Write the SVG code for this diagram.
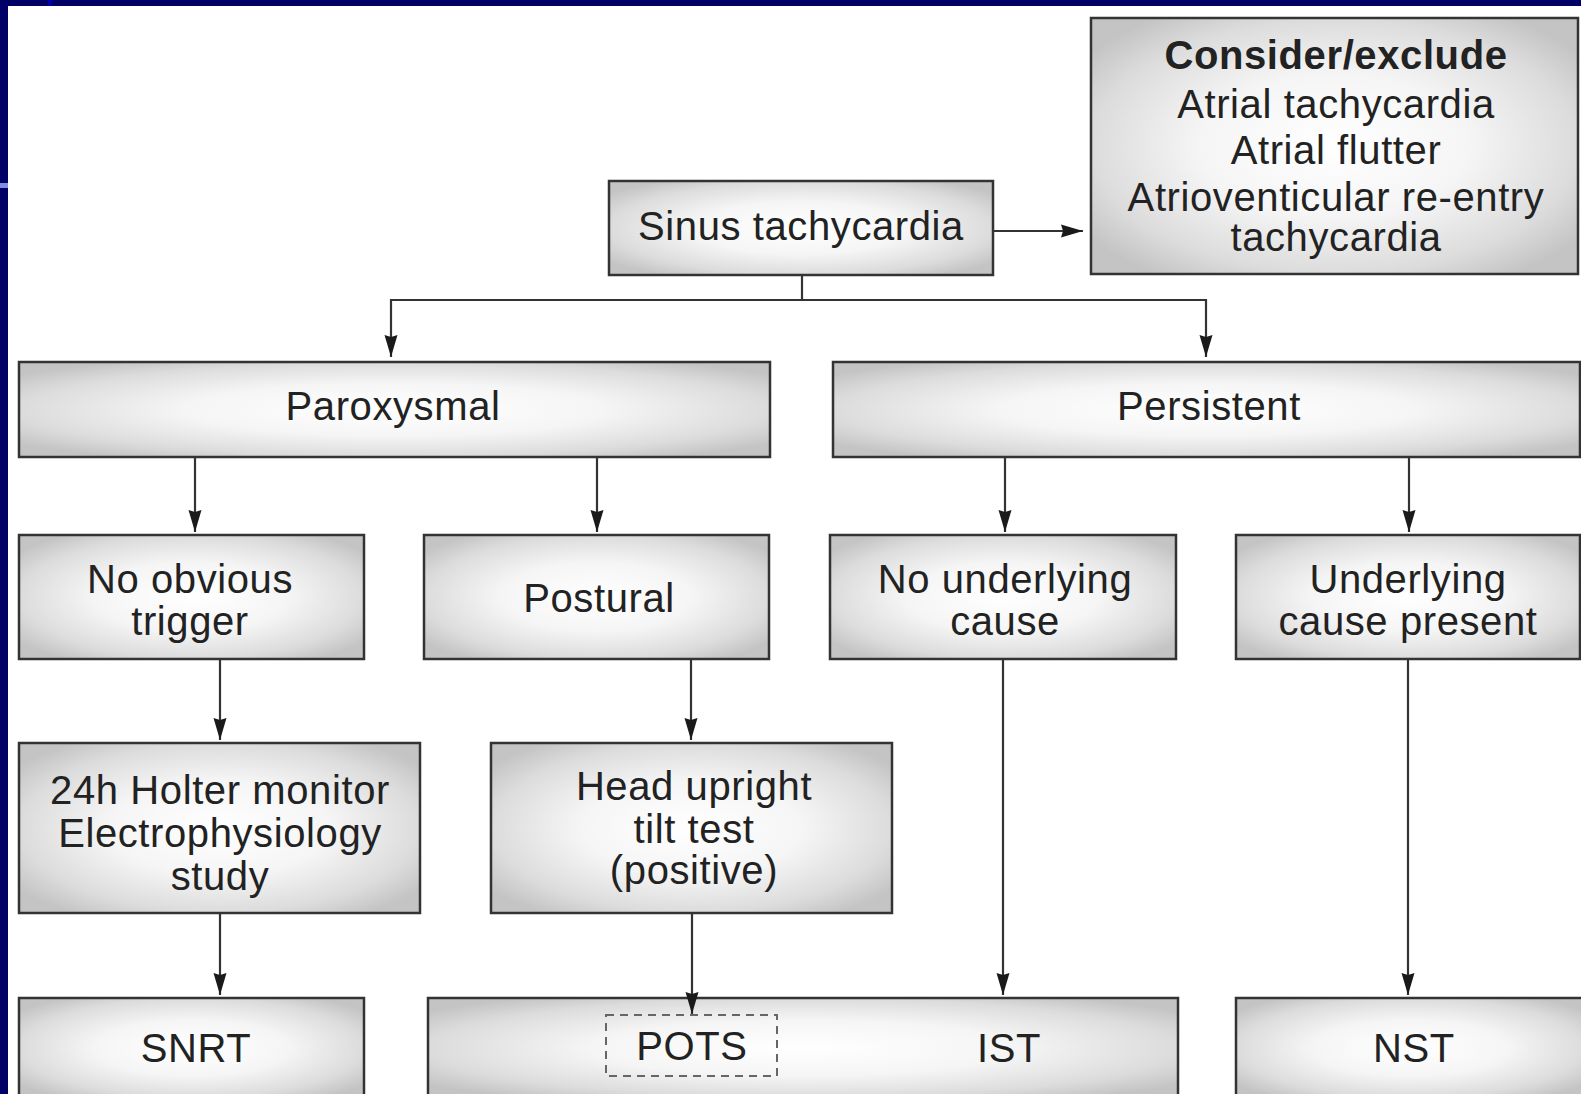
<svg xmlns="http://www.w3.org/2000/svg" width="1581" height="1094" viewBox="0 0 1581 1094">
<defs>
<radialGradient id="g" cx="0.5" cy="0.5" r="0.62">
<stop offset="0" stop-color="#ffffff"/>
<stop offset="0.45" stop-color="#f5f5f5"/>
<stop offset="0.8" stop-color="#dcdcdc"/>
<stop offset="1" stop-color="#c4c4c4"/>
</radialGradient>
<marker id="ah" viewBox="0 0 22 14" refX="22" refY="7" markerWidth="22" markerHeight="14" markerUnits="userSpaceOnUse" orient="auto">
<path d="M0,0.5 L22,7 L0,13.5 L2,7 Z" fill="#1a1a1a"/>
</marker>
</defs>
<style>
.box{fill:url(#g);stroke:#333;stroke-width:2.5}
.t{font-family:"Liberation Sans",Arial,sans-serif;font-size:40px;fill:#222;text-anchor:middle;letter-spacing:0.6px}
.b{font-weight:bold}
.c{fill:none;stroke:#333;stroke-width:2.2}
.dash{fill:none;stroke:#666;stroke-width:2;stroke-dasharray:8,6}
</style>
<rect x="0" y="0" width="1581" height="1094" fill="#ffffff"/>
<rect x="0" y="0" width="1581" height="6" fill="#000066"/>
<rect x="0" y="0" width="8" height="1094" fill="#000066"/>
<rect x="48" y="0" width="4" height="6" fill="#0000aa"/>
<rect x="0" y="183" width="8" height="5" fill="#7f8fe0"/>

<g id="sinus">
<rect class="box" x="609" y="181" width="384" height="94"/>
<text class="t" x="801" y="240">Sinus tachycardia</text>
</g>
<g id="consider">
<rect class="box" x="1091" y="18" width="487" height="256"/>
<text class="t b" x="1336" y="69">Consider/exclude</text>
<text class="t" x="1336" y="118">Atrial tachycardia</text>
<text class="t" x="1336" y="164">Atrial flutter</text>
<text class="t" x="1336" y="211">Atrioventicular re-entry</text>
<text class="t" x="1336" y="251">tachycardia</text>
</g>
<g id="paroxysmal">
<rect class="box" x="19" y="362" width="751" height="95"/>
<text class="t" x="393" y="420">Paroxysmal</text>
</g>
<g id="persistent">
<rect class="box" x="833" y="362" width="747" height="95"/>
<text class="t" x="1209" y="420">Persistent</text>
</g>
<g id="no-trigger">
<rect class="box" x="19" y="535" width="345" height="124"/>
<text class="t" x="190" y="593">No obvious</text>
<text class="t" x="190" y="635">trigger</text>
</g>
<g id="postural">
<rect class="box" x="424" y="535" width="345" height="124"/>
<text class="t" x="599" y="612">Postural</text>
</g>
<g id="no-cause">
<rect class="box" x="830" y="535" width="346" height="124"/>
<text class="t" x="1005" y="593">No underlying</text>
<text class="t" x="1005" y="635">cause</text>
</g>
<g id="cause">
<rect class="box" x="1236" y="535" width="344" height="124"/>
<text class="t" x="1408" y="593">Underlying</text>
<text class="t" x="1408" y="635">cause present</text>
</g>
<g id="holter">
<rect class="box" x="19" y="743" width="401" height="170"/>
<text class="t" x="220" y="804">24h Holter monitor</text>
<text class="t" x="220" y="847">Electrophysiology</text>
<text class="t" x="220" y="890">study</text>
</g>
<g id="tilt">
<rect class="box" x="491" y="743" width="401" height="170"/>
<text class="t" x="694" y="800">Head upright</text>
<text class="t" x="694" y="843">tilt test</text>
<text class="t" x="694" y="884">(positive)</text>
</g>
<g id="snrt">
<rect class="box" x="19" y="998" width="345" height="100"/>
<text class="t" x="196" y="1062">SNRT</text>
</g>
<g id="pots-ist">
<rect class="box" x="428" y="998" width="750" height="100"/>
<rect class="dash" x="606" y="1015" width="171" height="61"/>
<text class="t" x="692" y="1060">POTS</text>
<text class="t" x="1009" y="1062">IST</text>
</g>
<g id="nst">
<rect class="box" x="1236" y="998" width="350" height="100"/>
<text class="t" x="1414" y="1062">NST</text>
</g>

<g id="connectors">
<line class="c" x1="994" y1="231" x2="1083" y2="231" marker-end="url(#ah)"/>
<line class="c" x1="802" y1="276" x2="802" y2="300"/>
<polyline class="c" points="391,300 1206,300"/>
<line class="c" x1="391" y1="299" x2="391" y2="357" marker-end="url(#ah)"/>
<line class="c" x1="1206" y1="299" x2="1206" y2="357" marker-end="url(#ah)"/>
<line class="c" x1="195" y1="458" x2="195" y2="532" marker-end="url(#ah)"/>
<line class="c" x1="597" y1="458" x2="597" y2="532" marker-end="url(#ah)"/>
<line class="c" x1="1005" y1="458" x2="1005" y2="532" marker-end="url(#ah)"/>
<line class="c" x1="1409" y1="458" x2="1409" y2="532" marker-end="url(#ah)"/>
<line class="c" x1="220" y1="660" x2="220" y2="740" marker-end="url(#ah)"/>
<line class="c" x1="691" y1="660" x2="691" y2="740" marker-end="url(#ah)"/>
<line class="c" x1="220" y1="914" x2="220" y2="995" marker-end="url(#ah)"/>
<line class="c" x1="692" y1="914" x2="692" y2="1014" marker-end="url(#ah)"/>
<line class="c" x1="1003" y1="660" x2="1003" y2="995" marker-end="url(#ah)"/>
<line class="c" x1="1408" y1="660" x2="1408" y2="995" marker-end="url(#ah)"/>
</g>
</svg>
